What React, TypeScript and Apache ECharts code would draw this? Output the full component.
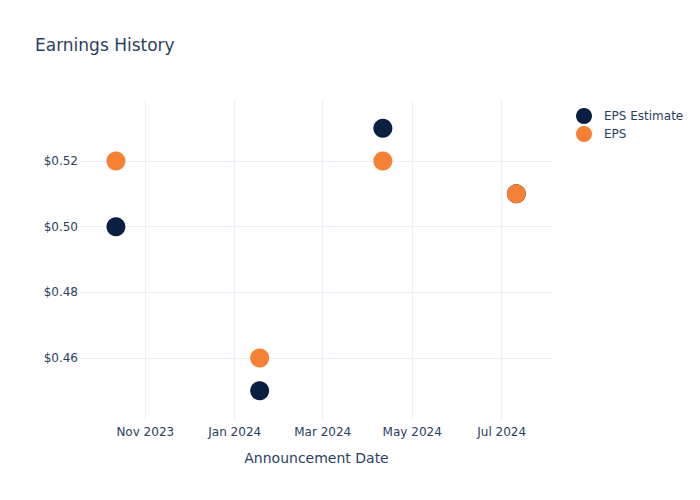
import React, { useEffect, useRef } from 'react';
import * as echarts from 'echarts';

const announcementDates = ['2023-10-12', '2024-01-18', '2024-04-11', '2024-07-11'];
const epsEstimate = [0.5, 0.45, 0.53, 0.51];
const epsActual = [0.52, 0.46, 0.52, 0.51];
const xTickDates = ['2023-11-01', '2024-01-01', '2024-03-01', '2024-05-01', '2024-07-01'];
const yTickValues = [0.46, 0.48, 0.5, 0.52];
const monthNames = ['Jan', 'Feb', 'Mar', 'Apr', 'May', 'Jun', 'Jul', 'Aug', 'Sep', 'Oct', 'Nov', 'Dec'];

const toTime = (s: string) => {
  const [y, m, d] = s.split('-').map(Number);
  return new Date(y, m - 1, d).getTime();
};

const TEXT = '#2a3f5f';
const GRID = '#ebf0f8';
const FONT = 'DejaVu Sans';

export default function App() {
  const ref = useRef<HTMLDivElement>(null);
  useEffect(() => {
    document.body.style.margin = '0';
    if (!ref.current) return;
    const chart = echarts.init(ref.current, undefined, { renderer: 'svg' });
    const xTicks = xTickDates.map(toTime);
    chart.setOption({
      animation: false,
      backgroundColor: '#ffffff',
      textStyle: { fontFamily: FONT },
      title: {
        text: 'Earnings History',
        left: 30,
        top: 31,
        textStyle: { fontFamily: FONT, fontSize: 17, fontWeight: 'normal', color: TEXT },
      },
      legend: {
        orient: 'vertical',
        left: 571,
        top: 103,
        itemWidth: 30,
        itemHeight: 16,
        itemGap: 2,
        icon: 'circle',
        textStyle: { fontFamily: FONT, fontSize: 12, color: TEXT },
        data: ['EPS Estimate', 'EPS'],
      },
      grid: { left: 80, right: 147, top: 100, bottom: 80, containLabel: false },
      xAxis: {
        type: 'value',
        min: new Date(2023, 8, 17, 12).getTime(),
        max: new Date(2024, 7, 5).getTime(),
        name: 'Announcement Date',
        nameLocation: 'middle',
        nameGap: 31,
        nameTextStyle: { fontFamily: FONT, fontSize: 14, color: TEXT },
        axisLine: { show: false },
        axisTick: { show: false, customValues: xTicks },
        axisLabel: {
          customValues: xTicks,
          margin: 6,
          fontFamily: FONT,
          fontSize: 12,
          color: TEXT,
          hideOverlap: false,
          showMinLabel: true,
          showMaxLabel: true,
          formatter: (v: number) => {
            const d = new Date(v);
            return `${monthNames[d.getMonth()]} ${d.getFullYear()}`;
          },
        },
        splitLine: { show: true, lineStyle: { color: GRID, width: 1 } },
      },
      yAxis: {
        type: 'value',
        min: 0.4411,
        max: 0.5386,
        axisLine: { show: false },
        axisTick: { show: false, customValues: yTickValues },
        axisLabel: {
          customValues: yTickValues,
          margin: 2,
          fontFamily: FONT,
          fontSize: 12,
          color: TEXT,
          formatter: (v: number) => '$' + v.toFixed(2),
        },
        splitLine: { show: true, lineStyle: { color: GRID, width: 1 } },
      },
      series: [
        {
          name: 'EPS Estimate',
          type: 'scatter',
          symbolSize: 19,
          itemStyle: { color: '#0b1f41', opacity: 1 },
          data: announcementDates.map((d, i) => [toTime(d), epsEstimate[i]]),
          z: 2,
        },
        {
          name: 'EPS',
          type: 'scatter',
          symbolSize: 19,
          itemStyle: { color: '#f58134', opacity: 1 },
          data: announcementDates.map((d, i) => [toTime(d), epsActual[i]]),
          z: 3,
        },
      ],
    });
    return () => chart.dispose();
  }, []);
  return <div ref={ref} style={{ width: 700, height: 500 }} />;
}
